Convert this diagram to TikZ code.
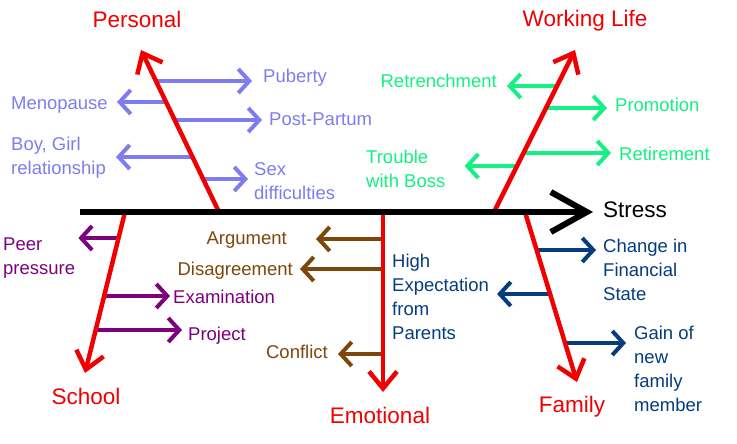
\documentclass[tikz,border=0pt]{standalone}
\usepackage{fontspec}
\setmainfont{Liberation Sans}
\usepackage{tikz}
\usetikzlibrary{arrows.meta}
\definecolor{bonered}{RGB}{240,0,0}
\definecolor{perscol}{RGB}{125,125,240}
\definecolor{workcol}{RGB}{20,240,130}
\definecolor{schoolcol}{RGB}{125,0,125}
\definecolor{emocol}{RGB}{125,70,10}
\definecolor{famcol}{RGB}{5,60,125}
\tikzstyle{spine} = [line width=6pt, -{Straight Barb[length=36pt,width=40pt]}, shorten >=10pt]
\tikzstyle{bone} = [line width=4.5pt, draw=bonered, -{Straight Barb[length=17pt,width=28pt]}]
\tikzstyle{head} = [text=bonered, font=\fontsize{22.5}{27}\selectfont, inner sep=0pt, anchor=base]
\tikzset{
 br/.style
  = {line width=4pt, -{Straight Barb[length=11pt,width=24pt]}, shorten >=8pt},
 t/.style
  = {inner sep=0pt, align=left, font=\fontsize{18.5}{24}\selectfont},
 pr/.style = {t, text=perscol},
 wk/.style = {t, text=workcol},
 sc/.style = {t, text=schoolcol},
 em/.style = {t, text=emocol},
 fm/.style = {t, text=famcol},
}

\begin{document}
\begin{tikzpicture}[x=1pt, y=-1pt]
\useasboundingbox (0,0) rectangle (737,444);

\coordinate (tail) at (80,212);
\node (stress) [inner sep=0pt, anchor=base west, font=\fontsize{22.5}{27}\selectfont] at (603,217) {Stress};

\coordinate (pbase) at (219,212);
\coordinate (ptip) at (141,50);
\node (personal) [head] at (137,28) {Personal};
\coordinate (wbase) at (494,212);
\coordinate (wtip) at (575,50);
\node (working) [head] at (585,27) {Working Life};
\coordinate (sbase) at (125,212);
\coordinate (stip) at (85,373);
\node (school) [head] at (86,404) {School};
\coordinate (ebase) at (383,212);
\coordinate (etip) at (383,392);
\node (emotional) [head] at (380,423) {Emotional};
\coordinate (fbase) at (525,212);
\coordinate (ftip) at (577,382);
\node (family) [head] at (572,412) {Family};

\node (puberty) [pr, anchor=base west] at (263,83) {Puberty};
\node (menopause) [pr, anchor=base east] at (108,110) {Menopause};
\node (postpartum) [pr, anchor=base west] at (269,125) {Post-Partum};
\node (boygirl) [pr, anchor=north west] at (11,137) {Boy, Girl\\relationship};
\node (sexdiff) [pr, anchor=north west] at (254,162) {Sex\\difficulties};
\coordinate (pub) at (156,81);
\coordinate (men) at (166,102);
\coordinate (post) at (175,120);
\coordinate (boy) at (192,157);
\coordinate (sex) at (203,179);
\draw [br, draw=perscol, shorten >=11pt] (pub) -- (pub -| puberty.west);
\draw [br, draw=perscol, shorten >=9pt] (men) -- (men -| menopause.east);
\draw [br, draw=perscol, shorten >=7pt] (post) -- (post -| postpartum.west);
\draw [br, draw=perscol, shorten >=10pt] (boy) -- (boy -| boygirl.east);
\draw [br, draw=perscol, shorten >=6pt] (sex) -- (sex -| sexdiff.west);

\node (retrench) [wk, anchor=base east] at (497,88) {Retrenchment};
\node (promotion) [wk, anchor=base west] at (615,112) {Promotion};
\node (retire) [wk, anchor=base west] at (619,160) {Retirement};
\node (trouble) [wk, anchor=north west] at (366,150) {Trouble\\with Boss};
\coordinate (ret) at (556,86);
\coordinate (pro) at (545,108);
\coordinate (rem) at (523,153);
\coordinate (tro) at (517,166);
\draw [br, draw=workcol, shorten >=10pt] (ret) -- (ret -| retrench.east);
\draw [br, draw=workcol] (pro) -- (pro -| promotion.west);
\draw [br, draw=workcol] (rem) -- (rem -| retire.west);
\draw [br, draw=workcol, shorten >=19pt] (tro) -- (tro -| trouble.east);

\node (peer) [sc, anchor=north west] at (3,238) {Peer\\pressure};
\node (exam) [sc, anchor=base west] at (173,303) {Examination};
\node (project) [sc, anchor=base west] at (188,340) {Project};
\coordinate (pee) at (118,238);
\coordinate (exa) at (104,296);
\coordinate (prj) at (96,330);
\draw [br, draw=schoolcol, shorten >=3pt] (pee) -- (pee -| peer.east);
\draw [br, draw=schoolcol, shorten >=3pt] (exa) -- (exa -| exam.west);
\draw [br, draw=schoolcol, shorten >=6pt] (prj) -- (prj -| project.west);

\node (argument) [em, anchor=base east] at (287,244) {Argument};
\node (disagree) [em, anchor=base east] at (293,275) {Disagreement};
\node (conflict) [em, anchor=base east] at (328,358) {Conflict};
\coordinate (arg) at (383,239);
\coordinate (dis) at (383,269);
\coordinate (con) at (383,354);
\draw [br, draw=emocol, shorten >=29pt] (arg) -- (arg -| argument.east);
\draw [br, draw=emocol, shorten >=7pt] (dis) -- (dis -| disagree.east);
\draw [br, draw=emocol, shorten >=10pt] (con) -- (con -| conflict.east);

\node (change) [fm, anchor=north west] at (603,239) {Change in\\Financial\\State};
\node (highexp) [fm, anchor=north west] at (392,254) {High\\Expectation\\from\\Parents};
\node (gain) [fm, anchor=north west] at (634,326) {Gain of\\new\\family\\member};
\coordinate (cha) at (537,250);
\coordinate (hig) at (550,294);
\coordinate (gai) at (565,343);
\draw [br, draw=famcol, shorten >=7pt] (cha) -- (cha -| change.west);
\draw [br, draw=famcol] (hig) -- (hig -| highexp.east);
\draw [br, draw=famcol] (gai) -- (gai -| gain.west);

\draw [bone] (pbase) -- (ptip);
\draw [bone] (wbase) -- (wtip);
\draw [bone] (sbase) -- (stip);
\draw [bone] (ebase) -- (etip);
\draw [bone] (fbase) -- (ftip);
\draw [spine] (tail) -- (tail -| stress.west);
\end{tikzpicture}
\end{document}
